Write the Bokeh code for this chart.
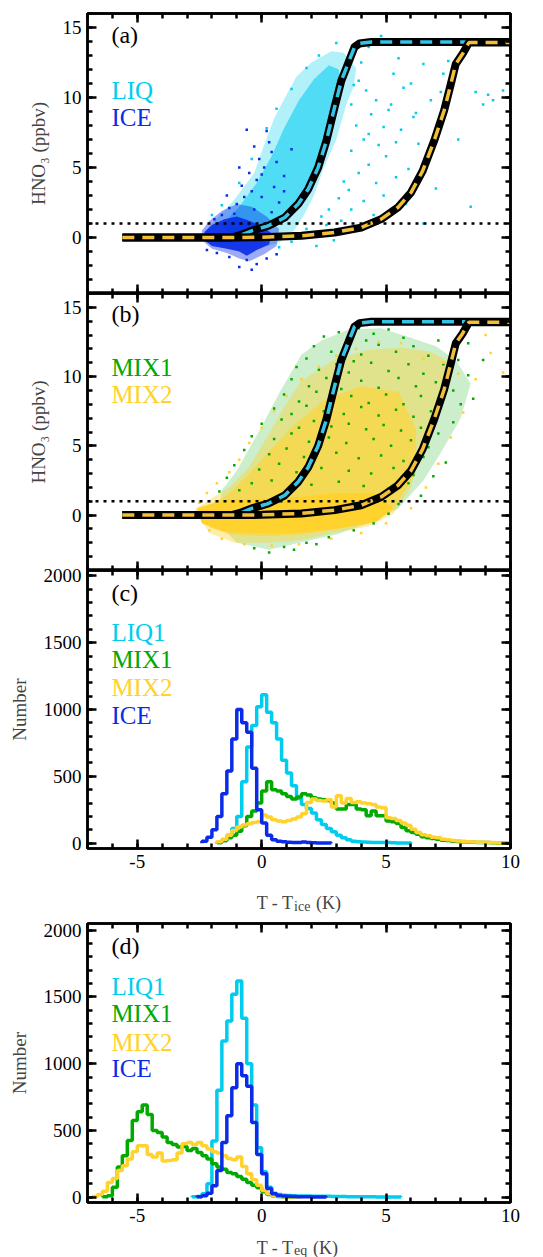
from bokeh.plotting import figure
from bokeh.layouts import column
from bokeh.models import (LinearAxis, SingleIntervalTicker, Label, Range1d, Span,
                          CustomJSTickFormatter)
from bokeh.embed import file_html
from bokeh.resources import INLINE

FONT = "Liberation Serif"
C_LIQ = "#00CCEE"
C_ICE = "#0A2BE8"
C_MIX1 = "#00AA00"
C_MIX2 = "#FFD22E"
C_DASH_LIQ = "#33C4E6"
C_DASH_MIX = "#F2C037"

# ---------------- equilibrium curves (panels a, b) ----------------
curve_liq_x = [-5.6, -2.0, -1.2, -0.8, -0.4, 0.27, 0.93, 1.47, 1.87, 2.27, 2.6, 2.93, 3.2, 3.4, 3.73, 3.93, 4.4, 10.0]
curve_liq_y = [0.0, 0.0, 0.0, 0.2, 0.48, 0.84, 1.43, 2.4, 3.45, 5.0, 6.9, 9.3, 11.2, 12.1, 13.6, 13.86, 13.96, 13.96]
curve_mix_x = [-5.6, -1.0, 0.0, 1.6, 2.93, 4.0, 4.8, 5.47, 6.0, 6.47, 6.93, 7.33, 7.6, 7.8, 8.07, 8.33, 10.0]
curve_mix_y = [0.0, 0.0, 0.02, 0.12, 0.36, 0.71, 1.31, 2.14, 3.2, 4.76, 6.9, 9.05, 10.95, 12.4, 13.1, 13.93, 13.93]
threshold = 1.0

# ---------------- panel (a) clouds ----------------
liq_env_x = [-2.3, -1.9, -1.1, -0.3, 0.1, 0.5, 1.0, 1.4, 2.0, 2.8, 3.3, 3.8, 3.7, 3.4, 3.0, 2.5, 2.1, 1.7, 1.3, 0.7, -0.2, -1.0, -1.8]
liq_env_y = [0.4, 1.2, 2.7, 4.6, 6.6, 8.5, 10.2, 11.5, 12.5, 13.3, 13.2, 12.1, 10.8, 9.5, 7.0, 5.0, 3.0, 1.6, 0.5, -0.4, -0.8, -0.9, -0.5]
liq_core_x = [-1.6, -0.9, -0.2, 0.4, 0.9, 1.5, 2.1, 2.7, 3.1, 3.2, 2.9, 2.5, 2.1, 1.7, 1.2, 0.5, -0.4, -1.2]
liq_core_y = [0.9, 2.2, 3.9, 5.8, 7.8, 9.8, 11.3, 12.3, 12.0, 10.5, 8.5, 6.3, 4.3, 2.8, 1.6, 0.7, 0.2, 0.2]
ice_env_x = [-2.4, -2.1, -1.6, -1.0, -0.4, 0.2, 0.7, 0.6, 0.1, -0.5, -0.9, -1.4, -2.0, -2.4]
ice_env_y = [0.5, 1.2, 1.9, 2.4, 2.2, 1.5, 0.6, -0.6, -1.2, -1.7, -1.5, -1.1, -0.8, -0.2]
ice_core_x = [-2.3, -2.0, -1.5, -1.0, -0.5, 0.0, 0.4, 0.3, -0.2, -0.6, -0.9, -1.4, -2.0, -2.3]
ice_core_y = [0.4, 0.9, 1.3, 1.5, 1.2, 0.8, 0.3, -0.5, -0.9, -1.3, -1.0, -0.8, -0.6, -0.2]
liq_pts_x = [4.0, 4.3, 3.9, 4.2, 4.6, 5.2, 4.4, 3.8, 4.9, 5.6, 4.1, 4.7, 3.6, 5.0, 4.3, 3.9, 5.4, 4.6, 3.5, 4.9,
             4.1, 5.8, 3.6, 4.5, 3.2, 2.6, 3.8, 2.9, 2.2, 6.3, 6.8, 7.2, 7.5, 8.9, 8.6, 9.1, 8.2, 6.0, 5.5, 6.5,
             7.0, 6.5, 7.9, 8.4, 5.9, 4.8, 3.0, 2.3, 1.8, 1.2, 0.6, 0.2, -0.4, -0.9, -1.6, -2.0, 3.3, 3.1, 2.7, 2.4,
             1.8, 1.2, 0.7, 5.4, 6.2, 3.6, 3.7, 7.7, 7.3, 9.3, 9.7, 6.1, 5.7, 5.3, 5.1, 4.3]
liq_pts_y = [12.5, 13.6, 11.2, 10.5, 9.8, 9.5, 8.8, 8.0, 7.9, 7.7, 7.0, 6.6, 6.2, 5.8, 5.2, 4.6, 4.3, 3.9, 3.4, 3.0,
             2.6, 2.4, 2.0, 1.6, 1.2, 0.9, 0.6, -0.2, -0.6, 6.7, 9.8, 10.4, 12.6, 9.5, 10.4, 10.2, 13.3, 11.0, 12.8, 12.4,
             3.5, 1.0, 7.0, 2.2, 4.9, 14.4, 13.9, 13.0, 12.1, 10.6, 9.2, 7.8, 5.6, 3.9, 2.3, 1.6, 4.0, 2.8, 2.0, 1.5,
             0.6, -0.3, -0.7, 6.8, 8.9, 9.5, 10.9, 12.3, 11.7, 9.8, 10.5, 8.6, 10.7, 11.7, 9.1, 7.4]
ice_pts_x = [-1.6, -1.3, -1.0, -0.7, -0.4, -0.8, -0.2, -0.5, 0.1, -0.1, 0.4, 0.2, -0.6, 0.3, 0.6, 0.9, 0.5, 0.0, 0.7, -0.3,
             0.4, 1.0, -1.9, -1.1, -0.6, -0.9, -0.4, -1.3, -1.8, -2.2, 0.2, 0.6, -0.2, 1.3, 0.9, -0.9, 1.2, -1.4, 0.0, -0.3]
ice_pts_y = [1.6, 2.1, 2.4, 2.9, 3.3, 3.7, 4.1, 4.6, 5.0, 5.6, 6.1, 7.6, 7.7, 6.8, 5.4, 4.4, 3.6, 2.9, 2.5, 2.0,
             1.8, 1.5, 1.3, 1.7, -1.6, -2.1, -2.3, -1.4, -1.1, -0.9, -1.5, -1.2, -1.9, 2.2, 3.3, 5.0, 6.3, 3.0, 4.5, 6.5]

# ---------------- panel (b) clouds ----------------
mix1_env_x = [-1.6, -1.0, 0.0, 0.7, 1.6, 2.4, 3.5, 4.8, 6.0, 7.0, 7.8, 8.4, 8.0, 7.2, 6.5, 5.5, 4.3, 3.0, 1.5, 0.3, -1.0, -1.8]
mix1_env_y = [1.8, 3.2, 6.4, 8.8, 11.6, 12.6, 13.4, 13.5, 12.8, 12.2, 11.2, 9.5, 7.0, 4.5, 2.5, 0.5, -0.6, -1.4, -2.0, -2.5, -2.0, -0.5]
mix2_env_x = [-2.7, -2.1, -1.3, -0.5, 0.3, 0.9, 1.6, 2.9, 4.2, 5.6, 6.8, 7.6, 7.4, 7.0, 6.4, 6.0, 5.3, 4.3, 2.9, 1.6, 0.3, -1.1, -2.1]
mix2_env_y = [0.4, 1.1, 2.0, 3.5, 5.9, 7.8, 9.7, 11.2, 11.9, 12.1, 11.8, 11.0, 9.5, 8.1, 4.9, 2.0, 0.1, -0.8, -1.3, -1.8, -2.0, -2.0, -1.3]
mix2_mid_x = [-2.2, -1.4, -0.5, 0.4, 1.2, 2.5, 4.0, 5.5, 6.2, 6.2, 5.3, 4.0, 3.0, 1.5, 0.0, -1.2, -2.1]
mix2_mid_y = [0.6, 1.4, 3.0, 4.8, 6.3, 8.3, 9.3, 8.9, 6.2, 3.0, 0.5, -0.4, -1.0, -1.4, -1.5, -1.4, -0.9]
mix2_core_x = [-2.6, -1.5, 0.0, 1.5, 3.0, 4.5, 5.3, 4.6, 3.0, 1.5, 0.0, -1.5, -2.4]
mix2_core_y = [0.5, 1.1, 1.2, 1.3, 1.6, 1.6, 0.5, -0.5, -1.0, -1.3, -1.3, -1.2, -0.6]
mix1_pts_x = [3.1, 3.9, 4.5, 5.1, 5.7, 4.2, 2.5, 2.1, 2.8, 3.4, 4.0, 4.7, 5.4, 6.1, 6.7, 1.8, 3.7, 1.4, 2.3, 3.0,
              3.5, 4.4, 5.1, 5.9, 6.5, 7.3, 7.9, 1.2, 1.9, 2.6, 3.2, 4.0, 4.7, 5.5, 6.2, 7.0, 7.7, 8.3, 0.9, 1.5,
              2.2, 2.9, 3.6, 4.3, 5.0, 5.7, 6.4, 7.1, 8.0, 0.5, 1.2, 1.8, 2.5, 3.3, 4.0, 4.7, 5.4, 6.1, 6.8, 0.0,
              0.8, 1.5, 2.1, 2.8, 3.5, 4.2, 4.9, 5.6, 6.4, 7.1, -0.4, 0.5, 1.2, 1.9, 2.7, 3.4, 4.5, 5.2, 6.0, 6.7,
              -0.7, 0.3, 1.0, 1.7, 3.0, 3.9, 4.8, 5.7, 6.5, -1.1, -0.1, 0.7, 1.4, 2.4, 3.5, 4.4, 5.3, 6.1, -1.4, -0.4,
              0.4, 2.0, 3.1, 4.1, 5.1, 5.9, 6.4, -1.7, -0.9, 4.7, 5.5, 3.7, 5.1, 4.5, 3.7, 2.7, 1.8, 0.9, 0.3, -0.3,
              1.3, 2.2, 7.7, 8.5, 7.4, 6.9, 8.9, 8.3, 7.1]
mix1_pts_y = [13.2, 13.5, 13.1, 13.4, 12.8, 12.6, 12.9, 12.2, 11.8, 12.4, 11.6, 12.3, 11.8, 12.2, 11.5, 11.3, 11.1, 10.7, 10.5, 10.9,
              10.3, 11.0, 10.4, 10.9, 10.2, 10.9, 11.2, 9.8, 9.3, 9.9, 9.1, 9.7, 9.2, 9.9, 9.3, 9.6, 9.0, 10.1, 8.7, 8.2,
              8.9, 8.3, 8.6, 8.1, 8.7, 8.0, 8.6, 8.3, 8.0, 7.7, 7.3, 7.9, 7.5, 7.3, 7.8, 7.2, 7.6, 7.1, 7.5, 6.6,
              6.9, 6.3, 6.8, 6.4, 6.6, 6.2, 6.5, 6.1, 6.3, 5.9, 5.7, 5.5, 5.9, 5.3, 5.6, 5.2, 5.5, 5.0, 5.4, 4.9,
              4.7, 4.4, 4.8, 4.2, 4.5, 4.1, 4.3, 3.9, 4.2, 3.6, 3.3, 3.7, 3.1, 3.4, 3.2, 3.0, 3.4, 2.9, 2.7, 2.3,
              2.5, 2.2, 2.4, 2.1, 1.9, 2.3, 1.4, 1.7, 1.8, 1.2, 0.8, 0.9, 0.1, -0.6, -1.1, -1.6, -2.0, -2.3, -2.7, -2.4,
              -2.5, -2.1, 6.7, 8.4, 3.8, 2.8, 11.2, 12.4, 12.6]
mix2_pts_x = [-2.5, -2.2, -1.8, -1.3, -0.9, -0.5, 0.0, 0.5, 1.0, 1.6, 2.3, 3.0, 3.8, 4.7, 5.6, 6.5, 7.3, 7.9, 8.6, 9.2,
              9.7, 10.0, 8.1, 7.6, 7.1, 6.6, 6.0, 5.0, 4.0, 2.8, 1.5, 0.4, -0.7, -1.6, -2.1, 9.0]
mix2_pts_y = [0.9, 1.6, 2.3, 3.1, 4.0, 5.2, 6.3, 7.5, 8.6, 9.8, 10.7, 11.5, 12.0, 12.5, 12.4, 11.3, 11.0, 10.2, 9.8, 11.7,
              10.3, 12.0, 7.4, 5.6, 3.7, 2.0, 0.5, -0.6, -1.3, -1.7, -2.1, -2.2, -2.1, -1.7, -1.1, 13.0]

# ---------------- histograms (0.2 K bins; counts per bin) ----------------
BIN = 0.2
c_liq1_start, c_liq1 = -1.8, [5, 20, 60, 110, 200, 460, 720, 880, 1020, 1110, 980, 900, 780, 620, 525, 430, 335, 290, 260, 225,
                             175, 140, 110, 85, 60, 40, 25, 15, 10, 8, 6, 5, 5, 4, 4, 3, 2, 2, 1]
c_mix1_start, c_mix1 = -1.8, [5, 20, 40, 60, 90, 130, 200, 240, 300, 390, 460, 400, 390, 370, 350, 330, 345, 370, 360, 340,
                             330, 325, 320, 300, 255, 255, 290, 290, 255, 250, 205, 240, 205, 205, 166, 160, 147, 117, 92, 80,
                             67, 47, 40, 35, 30, 22, 20, 15, 12, 10, 8, 6, 5, 5, 4, 3, 2, 2, 1]
c_mix2_start, c_mix2 = -1.8, [10, 30, 60, 95, 120, 135, 145, 155, 160, 210, 195, 175, 165, 160, 170, 180, 195, 220, 305, 330,
                             320, 315, 325, 270, 355, 300, 335, 305, 310, 300, 295, 290, 270, 265, 190, 185, 170, 150, 134, 104,
                             80, 62, 55, 45, 40, 30, 26, 20, 17, 14, 10, 8, 7, 6, 5, 4, 3, 2, 1]
c_ice_start, c_ice = -2.4, [15, 45, 100, 200, 370, 540, 780, 1000, 900, 830, 560, 250, 150, 60, 25, 15, 10, 6, 5, 4,
                           8, 5, 3, 2, 2, 1]
d_liq1_start, d_liq1 = -2.8, [3, 5, 25, 100, 420, 800, 1170, 1320, 1520, 1620, 1340, 1000, 690, 370, 190, 75, 30, 20, 15, 12,
                             10, 9, 8, 8, 7, 7, 6, 6, 5, 5, 5, 4, 4, 4, 3, 3, 3, 2, 2, 2, 2, 1]
d_mix1_start, d_mix1 = -6.4, [3, 10, 75, 225, 310, 425, 575, 640, 690, 620, 500, 485, 450, 410, 395, 375, 380, 350, 365, 335,
                             310, 285, 250, 225, 210, 185, 175, 155, 135, 110, 90, 70, 40, 20, 10, 5, 3, 2, 1]
d_mix2_start, d_mix2 = -6.8, [5, 20, 45, 110, 140, 200, 235, 285, 340, 385, 385, 320, 300, 330, 270, 275, 280, 330, 400, 410,
                             395, 410, 385, 360, 340, 330, 310, 290, 280, 300, 230, 175, 130, 90, 50, 25, 12, 8, 5, 3, 2, 1]
d_ice_start, d_ice = -2.6, [3, 10, 30, 85, 200, 410, 610, 820, 1000, 910, 830, 560, 320, 175, 65, 25, 12, 8, 6, 5,
                           4, 3, 3, 2, 2, 1]

X_RANGE = (-7, 10)
Y_HNO3 = (-4, 16)
Y_C = (-40, 2040)
Y_D = (-40, 2050)


def step_xy(start, counts):
    edges = [round(start + BIN * i, 2) for i in range(len(counts) + 1)]
    return [edges[0]] + edges, [0] + list(counts) + [0]


def style_axis(ax, labels, title=None):
    ax.axis_line_width = 2.5
    ax.axis_line_color = "black"
    ax.major_tick_in = 9
    ax.major_tick_out = 0
    ax.minor_tick_in = 5
    ax.minor_tick_out = 0
    ax.major_tick_line_width = 2.5
    ax.minor_tick_line_width = 2.5
    ax.major_label_text_font = FONT
    ax.major_label_text_color = "black"
    if labels:
        ax.major_label_text_font_size = "19px"
        ax.major_label_standoff = 6
        ax.major_label_overrides = {-5: "-5"}
    else:
        ax.formatter = CustomJSTickFormatter(code="return ''")
        ax.major_label_text_font_size = "1px"
        ax.major_label_standoff = 0
    if title:
        ax.axis_label = title
        ax.axis_label_text_font = FONT
        ax.axis_label_text_font_size = "19px"
        ax.axis_label_text_font_style = "normal"
        ax.axis_label_standoff = 11


def make_fig(yr, frame_h, top, bottom, yint, ylabel, xlabels):
    p = figure(frame_width=423, frame_height=frame_h, x_range=Range1d(*X_RANGE), y_range=Range1d(*yr),
               output_backend="svg", toolbar_location=None, x_axis_type=None, y_axis_type=None,
               min_border_left=87, min_border_right=33, min_border_top=top, min_border_bottom=bottom)
    p.outline_line_color = "black"
    p.outline_line_width = 2.5
    p.background_fill_color = "white"
    p.border_fill_color = "white"
    for side, lab in (("below", xlabels), ("above", False)):
        ax = LinearAxis(ticker=SingleIntervalTicker(interval=5, num_minor_ticks=5))
        style_axis(ax, lab)
        p.add_layout(ax, side)
    for side, lab in (("left", True), ("right", False)):
        ax = LinearAxis(ticker=SingleIntervalTicker(interval=yint, num_minor_ticks=5))
        style_axis(ax, lab, ylabel if side == "left" else None)
        p.add_layout(ax, side)
    return p


def add_text(p, x, y, text, color, size="25px"):
    p.add_layout(Label(x=x, y=y, text=text, text_color=color, text_font=FONT, text_font_size=size,
                       text_baseline="middle", text_align="left"))


def add_curves(p):
    p.add_layout(Span(location=threshold, dimension="width", line_color="black", line_width=2.5, line_dash="3 5"))
    p.line(curve_liq_x, curve_liq_y, line_color="black", line_width=8, line_join="round")
    p.line(curve_liq_x, curve_liq_y, line_color=C_DASH_LIQ, line_width=3.5, line_dash="12 8")
    p.line(curve_mix_x, curve_mix_y, line_color="black", line_width=8, line_join="round")
    p.line(curve_mix_x, curve_mix_y, line_color=C_DASH_MIX, line_width=3.5, line_dash="12 8")


def title_fig(height, y_main, y_sub, sub):
    # same frame geometry as the panels so the column aligns it; x in data units (K)
    t = figure(frame_width=423, frame_height=height, x_range=Range1d(*X_RANGE), y_range=Range1d(0, height),
               output_backend="svg", toolbar_location=None, x_axis_type=None, y_axis_type=None,
               min_border_left=87, min_border_right=33, min_border_top=0, min_border_bottom=0)
    t.outline_line_color = None
    t.border_fill_color = None
    t.background_fill_color = None
    x_main = -0.2
    x_sub = x_main + 1.5
    x_end = x_sub + (0.88 if sub == "ice" else 0.76)
    t.add_layout(Label(x=x_main, y=y_main, text="T - T", text_font=FONT, text_font_size="18px",
                       text_baseline="alphabetic", text_align="left"))
    t.add_layout(Label(x=x_sub, y=y_sub, text=sub, text_font=FONT, text_font_size="14px",
                       text_baseline="alphabetic", text_align="left"))
    t.add_layout(Label(x=x_end, y=y_main, text="(K)", text_font=FONT, text_font_size="18px",
                       text_baseline="alphabetic", text_align="left"))
    return t


# ---------------- panel (a) ----------------
pa = make_fig(Y_HNO3, 280, 13, 0, 5, "HNO\u2083 (ppbv)", False)
pa.patch(liq_env_x, liq_env_y, fill_color=C_LIQ, fill_alpha=0.3, line_color=None)
pa.patch(liq_core_x, liq_core_y, fill_color=C_LIQ, fill_alpha=0.55, line_color=None)
pa.scatter(liq_pts_x, liq_pts_y, marker="square", size=2.5, fill_color=C_LIQ, line_color=None)
pa.patch(ice_env_x, ice_env_y, fill_color=C_ICE, fill_alpha=0.4, line_color=None)
pa.patch(ice_core_x, ice_core_y, fill_color=C_ICE, fill_alpha=0.9, line_color=None)
pa.scatter(ice_pts_x, ice_pts_y, marker="square", size=2.5, fill_color=C_ICE, line_color=None)
add_curves(pa)
add_text(pa, -6.04, 14.43, "(a)", "black", "24px")
add_text(pa, -6.04, 10.5, "LIQ", C_LIQ)
add_text(pa, -6.04, 8.57, "ICE", C_ICE)

# ---------------- panel (b) ----------------
pb = make_fig(Y_HNO3, 277, 0, 0, 5, "HNO\u2083 (ppbv)", False)
pb.patch(mix1_env_x, mix1_env_y, fill_color=C_MIX1, fill_alpha=0.2, line_color=None)
pb.patch(mix2_env_x, mix2_env_y, fill_color=C_MIX2, fill_alpha=0.4, line_color=None)
pb.patch(mix2_mid_x, mix2_mid_y, fill_color=C_MIX2, fill_alpha=0.6, line_color=None)
pb.patch(mix2_core_x, mix2_core_y, fill_color=C_MIX2, fill_alpha=1.0, line_color=None)
pb.scatter(mix1_pts_x, mix1_pts_y, marker="square", size=2.5, fill_color=C_MIX1, line_color=None)
pb.scatter(mix2_pts_x, mix2_pts_y, marker="square", size=2.5, fill_color=C_MIX2, line_color=None)
add_curves(pb)
add_text(pb, -6.04, 14.53, "(b)", "black", "24px")
add_text(pb, -6.04, 10.66, "MIX1", C_MIX1)
add_text(pb, -6.04, 8.71, "MIX2", C_MIX2)

# ---------------- panel (c) ----------------
pc = make_fig(Y_C, 278, 10, 32, 500, "Number", True)
pc.border_fill_color = None
pc.margin = (-10, 0, 0, 0)
for (st, cnt, col) in ((c_liq1_start, c_liq1, C_LIQ), (c_mix1_start, c_mix1, C_MIX1),
                       (c_mix2_start, c_mix2, C_MIX2), (c_ice_start, c_ice, C_ICE)):
    xs, ys = step_xy(st, cnt)
    pc.step(xs, ys, mode="after", line_color=col, line_width=3.5)
add_text(pc, -6.04, 1868, "(c)", "black", "24px")
add_text(pc, -6.04, 1576, "LIQ1", C_LIQ)
add_text(pc, -6.04, 1374, "MIX1", C_MIX1)
add_text(pc, -6.04, 1165, "MIX2", C_MIX2)
add_text(pc, -6.04, 955, "ICE", C_ICE)

tc = title_fig(35, 13, 9, "ice")

# ---------------- panel (d) ----------------
pd_ = make_fig(Y_D, 279, 8, 32, 500, "Number", True)
for (st, cnt, col) in ((d_liq1_start, d_liq1, C_LIQ), (d_mix1_start, d_mix1, C_MIX1),
                       (d_mix2_start, d_mix2, C_MIX2), (d_ice_start, d_ice, C_ICE)):
    xs, ys = step_xy(st, cnt)
    pd_.step(xs, ys, mode="after", line_color=col, line_width=3.5)
add_text(pd_, -6.04, 1885, "(d)", "black", "24px")
add_text(pd_, -6.04, 1577, "LIQ1", C_LIQ)
add_text(pd_, -6.04, 1375, "MIX1", C_MIX1)
add_text(pd_, -6.04, 1157, "MIX2", C_MIX2)
add_text(pd_, -6.04, 962, "ICE", C_ICE)

td = title_fig(23, 10, 7, "eq")

layout = column(pa, pb, pc, tc, pd_, td, spacing=0)
open("out.html", "w").write(file_html(layout, INLINE))
